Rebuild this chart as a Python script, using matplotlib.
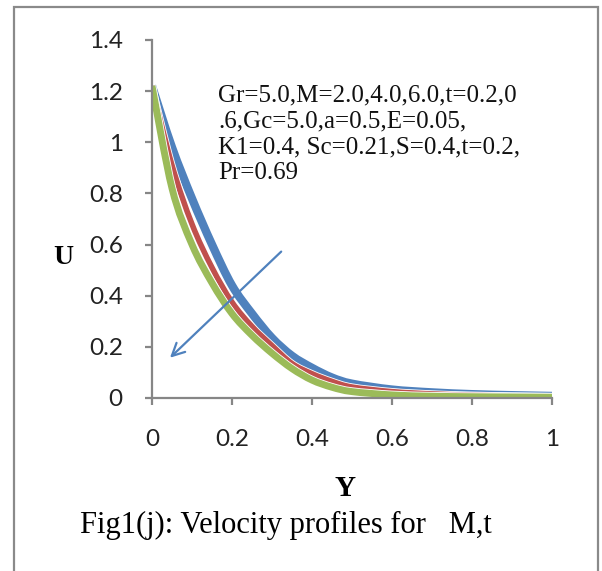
import matplotlib

matplotlib.use("Agg")
import matplotlib.pyplot as plt
import matplotlib.patheffects as pe
import numpy as np
from matplotlib.patches import PathPatch, Rectangle
from matplotlib.path import Path
from matplotlib.ticker import FuncFormatter

# velocity profiles U(Y) for M = 2, 4, 6
Y_BLUE = [0.0, 0.05, 0.1, 0.15, 0.2, 0.25, 0.3, 0.35, 0.4, 0.45, 0.5, 0.6, 0.7, 0.8, 0.9, 1.0]
U_BLUE = [1.22, 0.98, 0.78, 0.60, 0.44, 0.33, 0.235, 0.165, 0.118, 0.08, 0.056, 0.033, 0.022, 0.015, 0.011, 0.008]
Y_RED = Y_BLUE
U_RED = [1.22, 0.91, 0.68, 0.51, 0.375, 0.28, 0.205, 0.135, 0.095, 0.065, 0.043, 0.025, 0.016, 0.011, 0.008, 0.006]
Y_GREEN = Y_BLUE
U_GREEN = [1.22, 0.82, 0.60, 0.45, 0.33, 0.245, 0.175, 0.115, 0.07, 0.042, 0.025, 0.012, 0.007, 0.005, 0.004, 0.003]

X_TICKS = [0, 0.2, 0.4, 0.6, 0.8, 1.0]
Y_TICKS = [0, 0.2, 0.4, 0.6, 0.8, 1.0, 1.2, 1.4]

PARAMS = ("Gr=5.0,M=2.0,4.0,6.0,t=0.2,0\n.6,Gc=5.0,a=0.5,E=0.05,\n"
          "K1=0.4, Sc=0.21,S=0.4,t=0.2,\nPr=0.69")
CAPTION = "Fig1(j): Velocity profiles for   M,t"

ARROW_FROM = (0.328, 0.58)
ARROW_TO = (0.04, 0.15)

BLUE = "#4F81BD"
RED = "#C0504D"
GREEN = "#9BBB59"
AXIS = "#868686"
SERIF = "Liberation Serif"
SANS = "Lato"


def smooth_path(xs, ys):
    """Catmull-Rom style cubic Bezier through the points (spreadsheet 'smoothed line')."""
    p = np.column_stack([xs, ys]).astype(float)
    ext = np.vstack([p[0], p, p[-1]])
    verts = [p[0]]
    codes = [Path.MOVETO]
    for i in range(len(p) - 1):
        p0, p1, p2, p3 = ext[i], ext[i + 1], ext[i + 2], ext[i + 3]
        verts += [p1 + (p2 - p0) / 6, p2 - (p3 - p1) / 6, p2]
        codes += [Path.CURVE4] * 3
    return Path(verts, codes)


fig = plt.figure(figsize=(6.02, 5.71), dpi=100)
fig.patch.set_facecolor("white")
fig.patches.append(Rectangle((14 / 602, -0.05), 584 / 602, 1 - 7 / 571 + 0.05,
                             transform=fig.transFigure, fill=False,
                             edgecolor="#8a8a8a", linewidth=1.6))

ax = fig.add_axes([152 / 602, 1 - 398 / 571, 400 / 602, 358 / 571])
for ys, us, c, lw in [(Y_BLUE, U_BLUE, BLUE, 6.0),
                      (Y_RED, U_RED, RED, 4.0),
                      (Y_GREEN, U_GREEN, GREEN, 5.0)]:
    ax.add_patch(PathPatch(smooth_path(ys, us), fill=False, edgecolor=c, linewidth=lw,
                           capstyle="butt", joinstyle="round",
                           path_effects=[pe.Stroke(linewidth=lw + 1.2, foreground="white"),
                                         pe.Normal()]))

ax.annotate("", xy=ARROW_TO, xytext=ARROW_FROM,
            arrowprops=dict(arrowstyle="->,head_length=0.9,head_width=0.45",
                            color=BLUE, linewidth=1.6))

ax.text(0.165, 1.225, PARAMS, fontsize=18, family=SERIF, va="top", ha="left",
        linespacing=1.22, color="#111111")

ax.set_xlim(0, 1)
ax.set_ylim(0, 1.4)
ax.set_xticks(X_TICKS)
ax.set_yticks(Y_TICKS)
fmt = FuncFormatter(lambda v, _: f"{v:g}")
ax.xaxis.set_major_formatter(fmt)
ax.yaxis.set_major_formatter(fmt)
for s in ("top", "right"):
    ax.spines[s].set_visible(False)
for s in ("left", "bottom"):
    ax.spines[s].set_color(AXIS)
    ax.spines[s].set_linewidth(1.6)
ax.tick_params(axis="both", direction="out", length=5, width=1.6, color=AXIS,
               labelsize=17.5, labelcolor="#222222")
ax.tick_params(axis="y", pad=16)
ax.tick_params(axis="x", pad=17)
for lab in ax.get_xticklabels() + ax.get_yticklabels():
    lab.set_family(SANS)

fig.text(63 / 602, 1 - 258 / 571, "U", fontsize=20, family=SERIF, fontweight="bold",
         ha="center", va="center")
fig.text(345 / 602, 1 - 489 / 571, "Y", fontsize=21, family=SERIF, fontweight="bold",
         ha="center", va="center")
fig.text(80 / 602, 1 - 525 / 571, CAPTION, fontsize=22, family=SERIF,
         ha="left", va="center")

fig.savefig("out.png", dpi=100, facecolor="white")
